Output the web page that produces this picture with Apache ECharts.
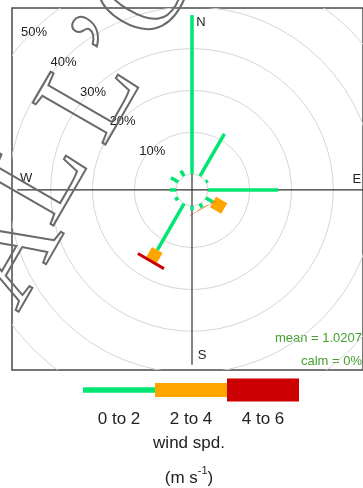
<!DOCTYPE html>
<html>
<head>
<meta charset="utf-8">
<script src="https://cdn.jsdelivr.net/npm/echarts@6/dist/echarts.min.js"></script>
<style>
  html, body { margin: 0; padding: 0; background: #ffffff; }
  #chart { width: 363px; height: 488px; }
</style>
</head>
<body>
<div id="chart"></div>
<script>
// Wind directions (degrees clockwise from north), 30-degree sectors
const directions = [0, 30, 60, 90, 120, 150, 180, 210, 240, 270, 300, 330];
// Frequency (%) of each wind-speed interval in each sector
const freqSpd0to2 = [38.0, 11.7, 0.6, 16.8, 2.0, 1.1, 1.1, 12.8, 0.9, 1.5, 2.0, 1.5];
const freqSpd2to4 = [0, 0, 0, 0, 3.1, 0.15, 0, 2.7, 0, 0, 0, 0];
const freqSpd4to6 = [0, 0, 0, 0, 0, 0.06, 0, 0.7, 0, 0, 0, 0];
const speedBins = ['0 to 2', '2 to 4', '4 to 6'];
const ringLevels = [10, 20, 30, 40, 50];
const ringLabels = ['10%', '20%', '30%', '40%', '50%'];
const compassLabels = ['N', 'E', 'S', 'W'];
const meanLabel = 'mean = 1.0207';
const calmLabel = 'calm = 0%';
const speedUnitTitle = 'wind spd.';

const binColors = ['#00e673', '#ffa500', '#cc0000'];
const paddleHalfWidth = [0.42, 1.45, 3.6];   // in frequency units
const FONT = "'Liberation Sans', Arial, sans-serif";

const binSeries = [freqSpd0to2, freqSpd2to4, freqSpd4to6];
const totals = directions.map((d, i) => binSeries.reduce((s, b) => s + b[i], 0));
const maxFreq = Math.max(...totals);
const off = maxFreq * 0.1;              // radial offset for the calm circle
const axisExt = maxFreq + off;          // length of the compass cross lines
const lim = axisExt * 1.03;

// panel: a square of 360 px centred on the rose; the right strip runs past the page
const panelLeft = 12, panelTop = 8, panelSide = 360, pageW = 363;
const visibleW = pageW - panelLeft;
const xMax = -lim + (2 * lim) * visibleW / panelSide;

// paddle pieces: [direction, start, end, bin]
const paddleData = [];
directions.forEach((d, i) => {
  let cum = 0;
  binSeries.forEach((b, j) => {
    if (b[i] > 0) paddleData.push([d, cum, cum + b[i], j]);
    cum += b[i];
  });
});

function renderPaddle(params, api) {
  const th = api.value(0) * Math.PI / 180;
  const r0 = api.value(1) + off, r1 = api.value(2) + off;
  const j = api.value(3);
  const w = paddleHalfWidth[j];
  const s = Math.sin(th), c = Math.cos(th);
  const pts = [
    [r0 * s - w * c, r0 * c + w * s],
    [r0 * s + w * c, r0 * c - w * s],
    [r1 * s + w * c, r1 * c - w * s],
    [r1 * s - w * c, r1 * c + w * s]
  ].map(p => api.coord(p));
  return { type: 'polygon', shape: { points: pts }, style: { fill: binColors[j] } };
}

function renderRing(params, api) {
  const level = api.value(0);
  const idx = params.dataIndex;
  const ctr = api.coord([0, 0]);
  const r = api.size([level + off, 0])[0];
  const children = [{
    type: 'circle',
    shape: { cx: ctr[0], cy: ctr[1], r: r },
    style: { fill: null, stroke: '#d6d6d6', lineWidth: 1 }
  }];
  if (idx > 0) {
    const a = Math.PI / 4;
    children.push({
      type: 'text',
      style: {
        text: ringLabels[idx - 1],
        x: ctr[0] - r * Math.sin(a) + 1, y: ctr[1] - r * Math.cos(a) + 2,
        align: 'center', verticalAlign: 'middle',
        font: '13px ' + FONT, fill: '#222'
      }
    });
  }
  return { type: 'group', children: children };
}

function renderCross(params, api) {
  const e = api.value(0);
  const L = api.coord([-e, 0]), R = api.coord([e, 0]);
  const T = api.coord([0, e]), B = api.coord([0, -e]);
  const ls = { stroke: '#333', lineWidth: 1.2 };
  const ts = (t, x, y) => ({ type: 'text', style: { text: t, x: x, y: y, align: 'center', verticalAlign: 'middle', font: '13px ' + FONT, fill: '#222' } });
  return {
    type: 'group',
    children: [
      { type: 'line', shape: { x1: L[0], y1: L[1], x2: R[0], y2: R[1] }, style: ls },
      { type: 'line', shape: { x1: T[0], y1: T[1], x2: B[0], y2: B[1] }, style: ls },
      ts(compassLabels[0], T[0] + 9, T[1] + 7),
      ts(compassLabels[1], R[0] - 10, R[1] - 11),
      ts(compassLabels[2], B[0] + 10, B[1] - 9),
      ts(compassLabels[3], L[0] + 9, L[1] - 12)
    ]
  };
}

// colour key below the panel
const swatchH = [5.5, 14, 23];
const keyLeft = 83, keyW = 72, keyMid = 390;
const keyGraphics = [];
speedBins.forEach((lab, j) => {
  keyGraphics.push({
    type: 'rect',
    shape: { x: keyLeft + j * keyW, y: keyMid - swatchH[j] / 2, width: keyW, height: swatchH[j] },
    style: { fill: binColors[j] }
  });
  keyGraphics.push({
    type: 'text',
    style: { text: lab, x: keyLeft + j * keyW + keyW / 2, y: 419, align: 'center', verticalAlign: 'middle', font: '17px ' + FONT, fill: '#222' }
  });
});
keyGraphics.push({
  type: 'text',
  style: { text: speedUnitTitle, x: 189, y: 443, align: 'center', verticalAlign: 'middle', font: '17px ' + FONT, fill: '#222' }
});
keyGraphics.push({
  type: 'text',
  style: {
    text: '{a|(m s}{b|-1}{a|)}', x: 189, y: 476, align: 'center', verticalAlign: 'middle',
    rich: {
      a: { font: '17px ' + FONT, fill: '#222', lineHeight: 22, verticalAlign: 'bottom' },
      b: { font: '11px ' + FONT, fill: '#222', lineHeight: 22, verticalAlign: 'top' }
    }
  }
});

// outlined lettering across the upper-left
const stampChars = ['A', 'L', 'L', '\u2019', 'O'];
const stampPos = [[12, 256], [42, 178], [94, 97], [118, 47], [150, -10]];
const stampGraphics = stampChars.map((ch, i) => ({
  type: 'text', x: stampPos[i][0], y: stampPos[i][1], rotation: Math.PI / 3,
  style: {
    text: ch, align: 'center', verticalAlign: 'middle',
    font: "128px 'Liberation Serif', serif",
    fill: 'rgba(0,0,0,0)', stroke: '#6a6a6a', lineWidth: 2
  },
  z: 100
}));

const chart = echarts.init(document.getElementById('chart'), null, { renderer: 'canvas' });
chart.setOption({
  animation: false,
  backgroundColor: '#ffffff',
  grid: {
    left: panelLeft, top: panelTop, right: 0, height: 362,
    show: true, borderColor: '#4a4a4a', borderWidth: 1.5, backgroundColor: 'transparent'
  },
  xAxis: { type: 'value', min: -lim, max: xMax, show: false },
  yAxis: { type: 'value', min: -lim, max: lim + 0.45, show: false },
  series: [
    { type: 'custom', renderItem: renderRing, data: [0].concat(ringLevels), clip: true, z: 1, silent: true },
    { type: 'custom', renderItem: renderCross, data: [axisExt], z: 2, silent: true },
    { type: 'custom', renderItem: renderPaddle, data: paddleData, z: 3, silent: true }
  ],
  graphic: [
    { type: 'text', style: { text: meanLabel, x: 362, y: 338, align: 'right', verticalAlign: 'middle', font: '13px ' + FONT, fill: '#44a02c' } },
    { type: 'text', style: { text: calmLabel, x: 362, y: 361, align: 'right', verticalAlign: 'middle', font: '13px ' + FONT, fill: '#44a02c' } }
  ].concat(keyGraphics, stampGraphics)
});
</script>
</body>
</html>
